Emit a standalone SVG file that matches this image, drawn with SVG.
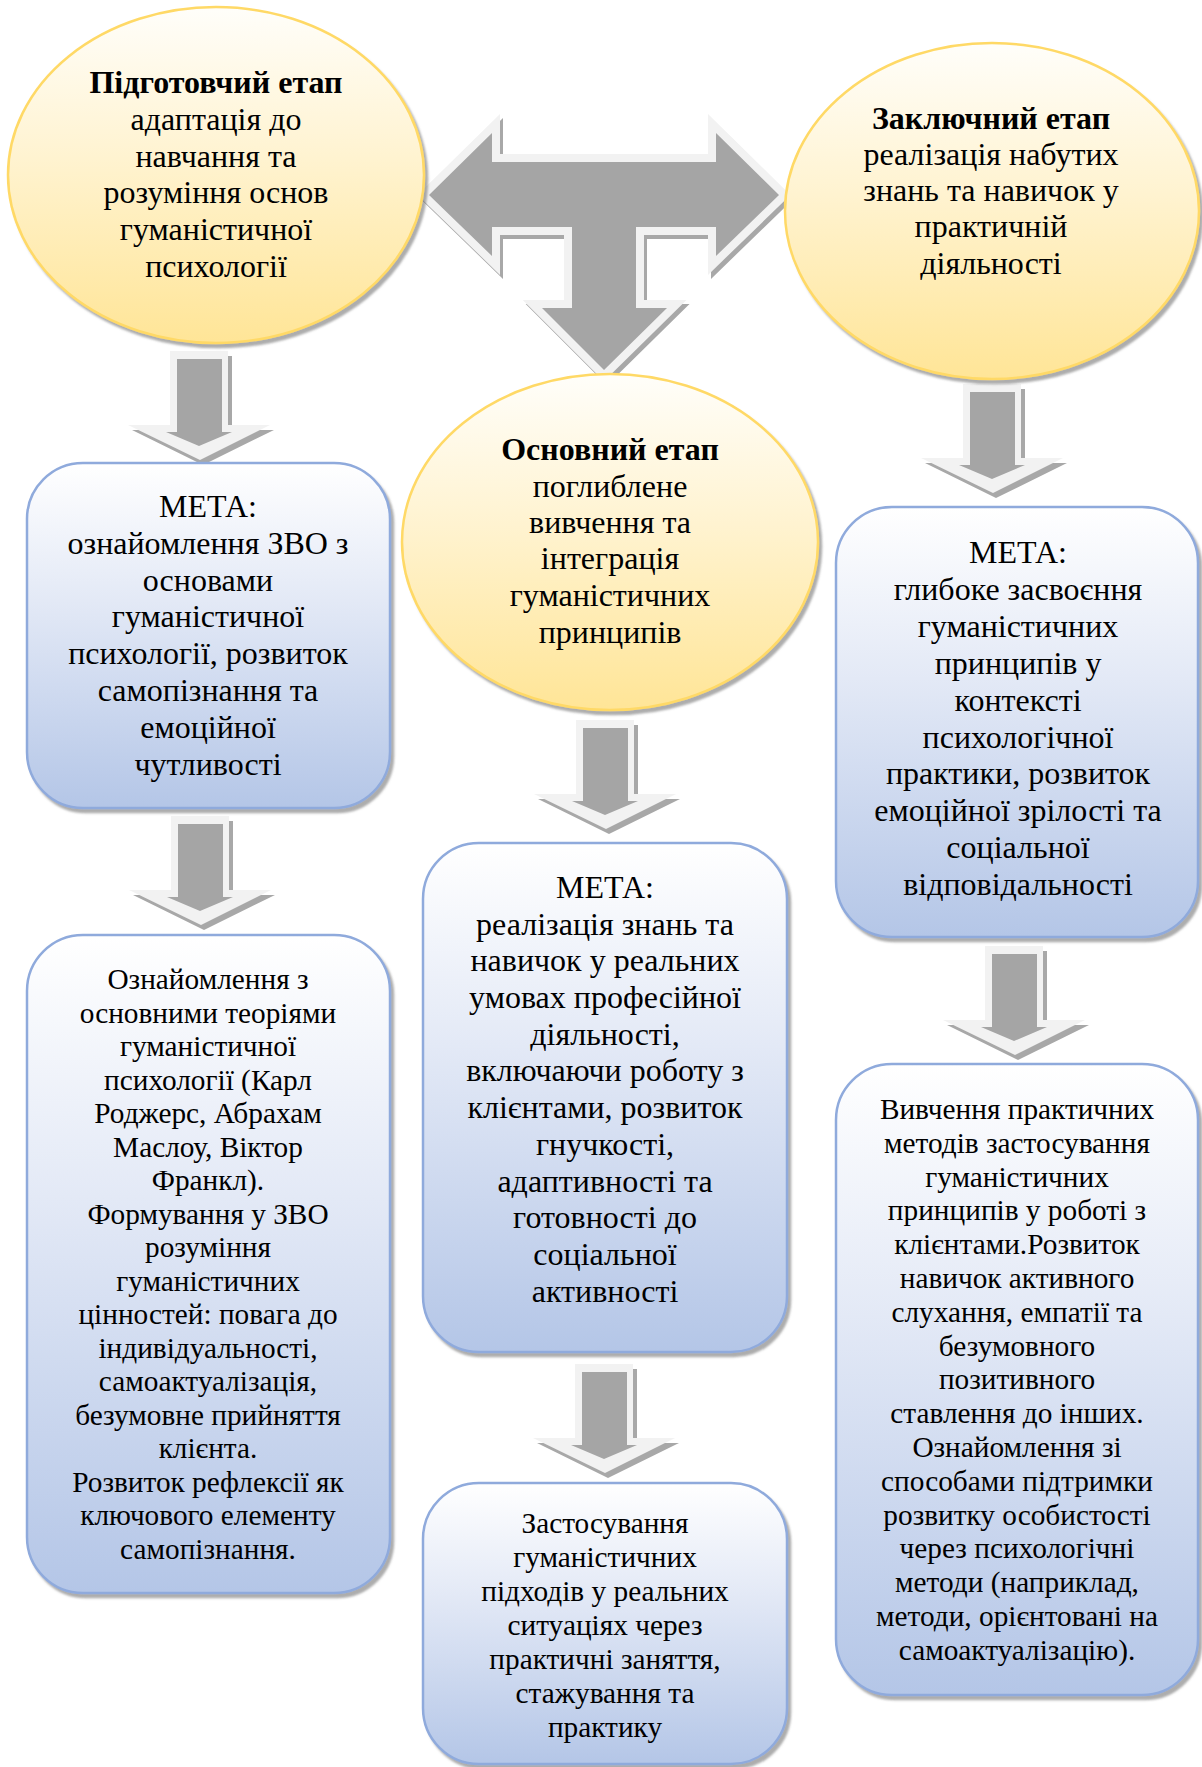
<svg xmlns="http://www.w3.org/2000/svg" xmlns:xlink="http://www.w3.org/1999/xlink" width="1202" height="1767" viewBox="0 0 1202 1767">
<defs>
<style>
.t{font-family:"Liberation Serif","Times New Roman",serif;fill:#000;text-anchor:middle}
.f32{font-size:32px}
.f29{font-size:29.3px}
.b{font-weight:bold}
.ell{fill:url(#gold);stroke:#ffd966;stroke-width:2.5;filter:url(#sh)}
.box{fill:url(#blue);stroke:#8faadc;stroke-width:2.5;filter:url(#sh)}
.aLight{fill:#f2f2f2}
.aGray{fill:#a5a5a5}
.aShadow{fill:#a8a8a8}
</style>
<linearGradient id="gold" x1="0" y1="0" x2="0" y2="1">
<stop offset="0" stop-color="#fffefa"/>
<stop offset="0.45" stop-color="#fff3d0"/>
<stop offset="1" stop-color="#ffe597"/>
</linearGradient>
<linearGradient id="blue" x1="0" y1="0" x2="0" y2="1">
<stop offset="0" stop-color="#ffffff"/>
<stop offset="0.4" stop-color="#e3e9f6"/>
<stop offset="1" stop-color="#b4c6e7"/>
</linearGradient>
<filter id="sh" x="-5%" y="-5%" width="115%" height="115%">
<feDropShadow dx="3" dy="4" stdDeviation="1.2" flood-color="#6b6b6b" flood-opacity="0.55"/>
</filter>
<g id="down">
<polygon class="aShadow" points="-26,5 33,5 33,79 75,79 4,114 -67,79 -26,79"/>
<polygon class="aLight" points="-29,0 29,0 29,74 71,74 1,109 -71,74 -29,74"/>
<polygon class="aGray" points="-22,8 23,8 23,81 33,81 0,95 -33,81 -22,81"/>
</g>
</defs>
<rect width="1202" height="1767" fill="#ffffff"/>

<g id="connectors">
<g id="t-arrow">
<polygon points="432,199 495,137 495,166 719,166 719,137 782,199 719,260 719,231 639,231 639,312 670,312 607,374 545,312 575,312 575,231 495,231 495,260" fill="#a8a8a8" stroke="#a8a8a8" stroke-width="16" stroke-linejoin="miter" stroke-miterlimit="10"/>
<polygon points="429,195 492,133 492,162 716,162 716,133 779,195 716,256 716,227 636,227 636,308 667,308 604,370 542,308 572,308 572,227 492,227 492,256" fill="#a5a5a5" stroke="#f2f2f2" stroke-width="16" stroke-linejoin="miter" stroke-miterlimit="10" paint-order="stroke"/>
</g>
<use xlink:href="#down" href="#down" transform="translate(199,351)"/>
<use xlink:href="#down" href="#down" transform="translate(200,816)"/>
<use xlink:href="#down" href="#down" transform="translate(605,720)"/>
<use xlink:href="#down" href="#down" transform="translate(604,1364)"/>
<use xlink:href="#down" href="#down" transform="translate(992,384)"/>
<use xlink:href="#down" href="#down" transform="translate(1014,946)"/>
</g>

<g id="stage-prep">
<ellipse class="ell" cx="216" cy="175" rx="208" ry="168"/>
<text class="t f32 b" x="216" y="93">Підготовчий етап</text>
<text class="t f32" x="216" y="130">адаптація до</text>
<text class="t f32" x="216" y="167">навчання та</text>
<text class="t f32" x="216" y="203">розуміння основ</text>
<text class="t f32" x="216" y="240">гуманістичної</text>
<text class="t f32" x="216" y="277">психології</text>
</g>

<g id="stage-final">
<ellipse class="ell" cx="992" cy="211" rx="207" ry="168"/>
<text class="t f32 b" x="991" y="129">Заключний етап</text>
<text class="t f32" x="991" y="165">реалізація набутих</text>
<text class="t f32" x="991" y="201">знань та навичок у</text>
<text class="t f32" x="991" y="237">практичній</text>
<text class="t f32" x="991" y="274">діяльності</text>
</g>

<g id="stage-main">
<ellipse class="ell" cx="610" cy="542" rx="208" ry="168"/>
<text class="t f32 b" x="610" y="460">Основний етап</text>
<text class="t f32" x="610" y="497">поглиблене</text>
<text class="t f32" x="610" y="533">вивчення та</text>
<text class="t f32" x="610" y="569">інтеграція</text>
<text class="t f32" x="610" y="606">гуманістичних</text>
<text class="t f32" x="610" y="643">принципів</text>
</g>

<g id="goal-prep">
<rect class="box" x="27" y="463" width="363" height="345" rx="56" ry="56"/>
<text class="t f32" x="208" y="517">МЕТА:</text>
<text class="t f32" x="208" y="554">ознайомлення ЗВО з</text>
<text class="t f32" x="208" y="591">основами</text>
<text class="t f32" x="208" y="627">гуманістичної</text>
<text class="t f32" x="208" y="664">психології, розвиток</text>
<text class="t f32" x="208" y="701">самопізнання та</text>
<text class="t f32" x="208" y="738">емоційної</text>
<text class="t f32" x="208" y="775">чутливості</text>
</g>

<g id="content-prep">
<rect class="box" x="27" y="935" width="363" height="658" rx="56" ry="56"/>
<text class="t f29" x="208" y="989">Ознайомлення з</text>
<text class="t f29" x="208" y="1022.5">основними теоріями</text>
<text class="t f29" x="208" y="1056">гуманістичної</text>
<text class="t f29" x="208" y="1089.5">психології (Карл</text>
<text class="t f29" x="208" y="1123">Роджерс, Абрахам</text>
<text class="t f29" x="208" y="1156.5">Маслоу, Віктор</text>
<text class="t f29" x="208" y="1190">Франкл).</text>
<text class="t f29" x="208" y="1223.5">Формування у ЗВО</text>
<text class="t f29" x="208" y="1257">розуміння</text>
<text class="t f29" x="208" y="1290.5">гуманістичних</text>
<text class="t f29" x="208" y="1324">цінностей: повага до</text>
<text class="t f29" x="208" y="1357.5">індивідуальності,</text>
<text class="t f29" x="208" y="1391">самоактуалізація,</text>
<text class="t f29" x="208" y="1424.5">безумовне прийняття</text>
<text class="t f29" x="208" y="1458">клієнта.</text>
<text class="t f29" x="208" y="1491.5">Розвиток рефлексії як</text>
<text class="t f29" x="208" y="1525">ключового елементу</text>
<text class="t f29" x="208" y="1558.5">самопізнання.</text>
</g>

<g id="goal-main">
<rect class="box" x="423" y="843" width="364" height="509" rx="56" ry="56"/>
<text class="t f32" x="605" y="898">МЕТА:</text>
<text class="t f32" x="605" y="935">реалізація знань та</text>
<text class="t f32" x="605" y="971">навичок у реальних</text>
<text class="t f32" x="605" y="1008">умовах професійної</text>
<text class="t f32" x="605" y="1045">діяльності,</text>
<text class="t f32" x="605" y="1081">включаючи роботу з</text>
<text class="t f32" x="605" y="1118">клієнтами, розвиток</text>
<text class="t f32" x="605" y="1155">гнучкості,</text>
<text class="t f32" x="605" y="1192">адаптивності та</text>
<text class="t f32" x="605" y="1228">готовності до</text>
<text class="t f32" x="605" y="1265">соціальної</text>
<text class="t f32" x="605" y="1302">активності</text>
</g>

<g id="content-main">
<rect class="box" x="423" y="1483" width="364" height="281" rx="56" ry="56"/>
<text class="t f29" x="605" y="1533">Застосування</text>
<text class="t f29" x="605" y="1567">гуманістичних</text>
<text class="t f29" x="605" y="1601">підходів у реальних</text>
<text class="t f29" x="605" y="1635">ситуаціях через</text>
<text class="t f29" x="605" y="1669">практичні заняття,</text>
<text class="t f29" x="605" y="1703">стажування та</text>
<text class="t f29" x="605" y="1737">практику</text>
</g>

<g id="goal-final">
<rect class="box" x="836" y="507" width="362" height="430" rx="56" ry="56"/>
<text class="t f32" x="1018" y="563">МЕТА:</text>
<text class="t f32" x="1018" y="600">глибоке засвоєння</text>
<text class="t f32" x="1018" y="637">гуманістичних</text>
<text class="t f32" x="1018" y="674">принципів у</text>
<text class="t f32" x="1018" y="711">контексті</text>
<text class="t f32" x="1018" y="748">психологічної</text>
<text class="t f32" x="1018" y="784">практики, розвиток</text>
<text class="t f32" x="1018" y="821">емоційної зрілості та</text>
<text class="t f32" x="1018" y="858">соціальної</text>
<text class="t f32" x="1018" y="895">відповідальності</text>
</g>

<g id="content-final">
<rect class="box" x="836" y="1064" width="362" height="631" rx="56" ry="56"/>
<text class="t f29" x="1017" y="1119">Вивчення практичних</text>
<text class="t f29" x="1017" y="1153">методів застосування</text>
<text class="t f29" x="1017" y="1187">гуманістичних</text>
<text class="t f29" x="1017" y="1220">принципів у роботі з</text>
<text class="t f29" x="1017" y="1254">клієнтами.Розвиток</text>
<text class="t f29" x="1017" y="1288">навичок активного</text>
<text class="t f29" x="1017" y="1322">слухання, емпатії та</text>
<text class="t f29" x="1017" y="1356">безумовного</text>
<text class="t f29" x="1017" y="1389">позитивного</text>
<text class="t f29" x="1017" y="1423">ставлення до інших.</text>
<text class="t f29" x="1017" y="1457">Ознайомлення зі</text>
<text class="t f29" x="1017" y="1491">способами підтримки</text>
<text class="t f29" x="1017" y="1525">розвитку особистості</text>
<text class="t f29" x="1017" y="1558">через психологічні</text>
<text class="t f29" x="1017" y="1592">методи (наприклад,</text>
<text class="t f29" x="1017" y="1626">методи, орієнтовані на</text>
<text class="t f29" x="1017" y="1660">самоактуалізацію).</text>
</g>
</svg>
